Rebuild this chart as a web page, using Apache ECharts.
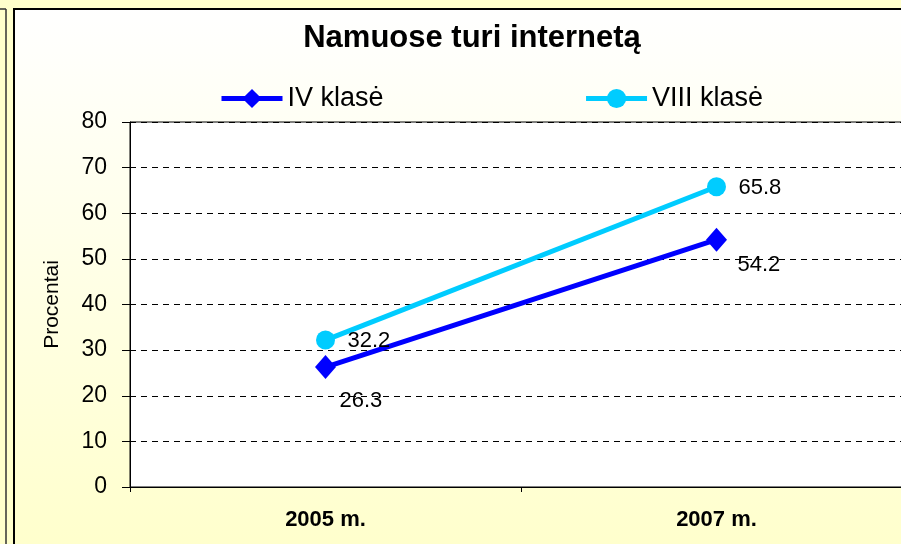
<!DOCTYPE html>
<html><head><meta charset="utf-8">
<script src="https://cdn.jsdelivr.net/npm/echarts@6/dist/echarts.min.js"></script>
<style>html,body{margin:0;padding:0;background:#FFFFCC;}#c{width:901px;height:544px;}</style>
</head><body><div id="c"></div>
<script>
const categories = ['2005 m.', '2007 m.'];
const seriesNames = ['IV klasė', 'VIII klasė'];
const ivValues = [26.3, 54.2];
const viiiValues = [32.2, 65.8];
const yTicks = [0, 10, 20, 30, 40, 50, 60, 70, 80];

// label placement (style only)
const ivLabelOffsets = [[14, 34], [21, 25]];
const viiiLabelOffsets = [[22, 1], [22, 1]];

const FONT = 'Liberation Sans, Arial, sans-serif';
const chart = echarts.init(document.getElementById('c'));
chart.setOption({
  backgroundColor: '#FFFFCC',
  animation: false,
  graphic: [
    { type: 'rect', z: -10, silent: true, shape: { x: 14, y: 9, width: 900, height: 540 },
      style: { fill: new echarts.graphic.LinearGradient(0, 0, 0, 1, [{offset: 0, color: '#FFFFFF'}, {offset: 1, color: '#FFFFCC'}]), stroke: '#000', lineWidth: 2 } },
    { type: 'line', z: -10, silent: true, shape: { x1: 0, y1: 9, x2: 6, y2: 9 }, style: { stroke: '#333', lineWidth: 1.5 } },
    { type: 'line', z: -10, silent: true, shape: { x1: 6, y1: 9, x2: 6, y2: 544 }, style: { stroke: '#333', lineWidth: 1.5 } }
  ],
  title: {
    text: 'Namuose turi internetą', left: 467, textAlign: 'center', top: 18,
    textStyle: { fontFamily: FONT, fontWeight: 'bold', fontSize: 31, color: '#000' }
  },
  legend: {
    left: 219, top: 85, padding: 0, itemGap: 200, itemWidth: 61, itemHeight: 24,
    data: seriesNames,
    lineStyle: { width: 5 },
    textStyle: { fontFamily: FONT, fontSize: 27, color: '#000' }
  },
  grid: { left: 130, top: 122, width: 782, bottom: 57, outerBoundsMode: 'none', containLabel: false,
    show: true, backgroundColor: '#fff', borderColor: '#000', borderWidth: 1 },
  xAxis: {
    type: 'category', data: categories, boundaryGap: true,
    axisLine: { lineStyle: { color: '#000', width: 1 } },
    axisTick: { show: true, inside: false, length: 5, lineStyle: { color: '#000' } },
    axisLabel: { margin: 22, fontFamily: FONT, fontWeight: 'bold', fontSize: 22, color: '#000' }
  },
  yAxis: {
    type: 'value', min: yTicks[0], max: yTicks[yTicks.length - 1], interval: 10,
    name: 'Procentai', nameLocation: 'middle', nameGap: 67,
    nameTextStyle: { fontFamily: FONT, fontSize: 21, color: '#000' },
    axisLine: { show: true, lineStyle: { color: '#000', width: 1 } },
    axisTick: { show: true, length: 8, lineStyle: { color: '#000' } },
    axisLabel: { margin: 23, fontFamily: FONT, fontSize: 23, color: '#000' },
    splitLine: { show: true, lineStyle: { color: '#000', type: [6, 5], width: 1 } }
  },
  series: [
    {
      name: seriesNames[0], type: 'line',
      data: ivValues.map((v, i) => ({ value: v, label: { offset: ivLabelOffsets[i] } })),
      symbol: 'diamond', symbolSize: [21, 24],
      lineStyle: { color: '#0000FF', width: 5 },
      itemStyle: { color: '#0000FF' },
      label: { show: true, position: 'inside', align: 'left', distance: 0,
        fontFamily: FONT, fontSize: 22, color: '#000' }
    },
    {
      name: seriesNames[1], type: 'line',
      data: viiiValues.map((v, i) => ({ value: v, label: { offset: viiiLabelOffsets[i] } })),
      symbol: 'circle', symbolSize: 19,
      lineStyle: { color: '#00CCFF', width: 5 },
      itemStyle: { color: '#00CCFF' },
      label: { show: true, position: 'inside', align: 'left', distance: 0,
        fontFamily: FONT, fontSize: 22, color: '#000' }
    }
  ]
});
</script></body></html>
